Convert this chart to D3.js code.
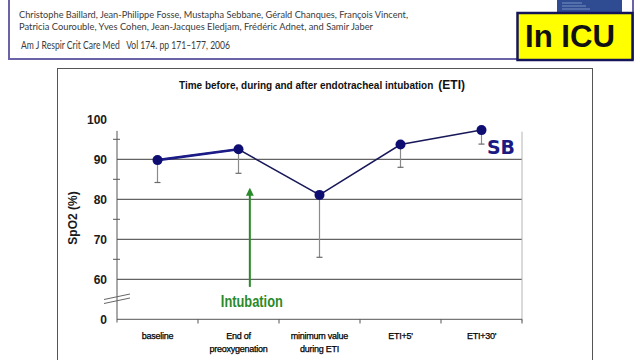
<!DOCTYPE html>
<html><head><meta charset="utf-8">
<script src="https://cdn.jsdelivr.net/npm/d3@7"></script>
<style>
html,body{margin:0;padding:0;background:#fff;}
svg{display:block;}
</style></head>
<body>
<svg id="c" width="640" height="360"></svg>
<script>
// ---- data ----
const authors = [
  "Christophe Baillard, Jean-Philippe Fosse, Mustapha Sebbane, Gérald Chanques, François Vincent,",
  "Patricia Courouble, Yves Cohen, Jean-Jacques Eledjam, Frédéric Adnet, and Samir Jaber"
];
const citation = "Am J Respir Crit Care Med\u2003Vol 174. pp 171–177, 2006";
const badge = "In ICU";
const chartTitle = "Time before, during and after endotracheal intubation";
const chartTitleSuffix = "(ETI)";
const yTitle = "SpO2 (%)";
const categories = ["baseline", "End of|preoxygenation", "minimum value|during ETI", "ETI+5'", "ETI+30'"];
const spo2Mean = [89.8, 92.5, 81.1, 93.7, 97.3];
const spo2Lower = [84.2, 86.5, 65.5, 88.0, 93.8];
const yTickValues = [50, 60, 70, 80, 90, 100];
const yTickLabels = ["0", "60", "70", "80", "90", "100"];
const yGridValues = [60, 70, 80, 90];
const yMinorValues = [65, 75, 85, 95];
const seriesLabel = "SB";
const annotationLabel = "Intubation";
const arrowRange = [58.1, 82.9];

// ---- drawing ----
const svg = d3.select("#c");

// header box
svg.append("rect").attr("x", 9).attr("y", -10).attr("width", 624).attr("height", 69)
  .attr("fill", "#fff").attr("stroke", "#6b63a8").attr("stroke-width", 2);
const hdr = svg.append("g").attr("font-family", "Lato, 'Open Sans', sans-serif").attr("fill", "#3a3a3a");
hdr.append("text").attr("x", 19).attr("y", 17.5).attr("font-size", 10).attr("textLength", 389)
  .attr("lengthAdjust", "spacingAndGlyphs").text(authors[0]);
hdr.append("text").attr("x", 19).attr("y", 29.5).attr("font-size", 10).attr("textLength", 354)
  .attr("lengthAdjust", "spacingAndGlyphs").text(authors[1]);
hdr.append("text").attr("x", 21).attr("y", 49).attr("font-size", 10.5).attr("textLength", 209)
  .attr("lengthAdjust", "spacingAndGlyphs").text(citation);

// journal cover fragment
svg.append("rect").attr("x", 557).attr("y", -2).attr("width", 65).attr("height", 16).attr("fill", "#2f4c92");
[3, 6, 9].forEach((yy, i) => svg.append("line").attr("x1", 562).attr("x2", 562 + 20 + i * 4)
  .attr("y1", yy).attr("y2", yy).attr("stroke", "#8ea2cf").attr("stroke-width", 0.8));

// In ICU badge
svg.append("rect").attr("x", 517.5).attr("y", 13).attr("width", 115).attr("height", 47)
  .attr("fill", "#ffff00").attr("stroke", "#14145a").attr("stroke-width", 2.5);
svg.append("text").attr("x", 525).attr("y", 47).attr("font-family", "Arial, 'Liberation Sans', sans-serif")
  .attr("font-weight", "bold").attr("font-size", 31).attr("fill", "#111").attr("textLength", 90)
  .attr("lengthAdjust", "spacingAndGlyphs").text(badge);

// chart panel
svg.append("rect").attr("x", 57.5).attr("y", 68.5).attr("width", 535).attr("height", 300)
  .attr("fill", "#fff").attr("stroke", "#555").attr("stroke-width", 1);

const FONT = "Arial, 'Liberation Sans', sans-serif";
const title = svg.append("text").attr("x", 179).attr("y", 89).attr("font-family", FONT)
  .attr("font-weight", "bold").attr("fill", "#111");
title.append("tspan").attr("font-size", 10).text(chartTitle);
title.append("tspan").attr("font-size", 12).attr("dx", 5).text(chartTitleSuffix);

// scales
const x = d3.scaleBand().domain(categories).range([117, 522]).padding(0);
const y = d3.scaleLinear().domain([50, 100]).range([319.3, 119.3]);
const cx = c => x(c) + x.bandwidth() / 2;

const plot = svg.append("g");
// gridlines
plot.selectAll(".grid").data(yGridValues).join("line")
  .attr("x1", 117).attr("x2", 522).attr("y1", d => y(d)).attr("y2", d => y(d))
  .attr("stroke", "#3c3c3c").attr("stroke-width", 1);
// right border
plot.append("line").attr("x1", 522).attr("x2", 522).attr("y1", y(96.9)).attr("y2", y(49.5))
  .attr("stroke", "#b5b5b5").attr("stroke-width", 1);

// y axis
const yAxis = d3.axisLeft(y).tickValues(yTickValues)
  .tickFormat((d, i) => yTickLabels[i]).tickSize(0).tickPadding(10);
const yg = plot.append("g").attr("transform", "translate(117,0)").call(yAxis);
yg.select(".domain").remove();
yg.selectAll("text").attr("font-family", FONT).attr("font-weight", "bold").attr("font-size", 12).attr("fill", "#1a1a1a");
plot.append("line").attr("x1", 117).attr("x2", 117).attr("y1", y(97.1)).attr("y2", y(49.2))
  .attr("stroke", "#555").attr("stroke-width", 1);
plot.selectAll(".minor").data(yMinorValues).join("line")
  .attr("x1", 113).attr("x2", 120).attr("y1", d => y(d)).attr("y2", d => y(d))
  .attr("stroke", "#555").attr("stroke-width", 1);
// axis break marks
[0, 4].forEach(o => plot.append("line").attr("x1", 104).attr("y1", 299.5 + o).attr("x2", 130).attr("y2", 294 + o)
  .attr("stroke", "#666").attr("stroke-width", 1));

// x axis
plot.append("line").attr("x1", 117).attr("x2", 522).attr("y1", 319.3).attr("y2", 319.3)
  .attr("stroke", "#555").attr("stroke-width", 1);
const bounds = categories.map(c => x(c)).concat([x.range()[1]]);
plot.selectAll(".xt").data(bounds.slice(1)).join("line")
  .attr("x1", d => d).attr("x2", d => d).attr("y1", 319.3).attr("y2", 323.5)
  .attr("stroke", "#555").attr("stroke-width", 1);
const xl = plot.selectAll(".xl").data(categories).join("text")
  .attr("x", d => cx(d)).attr("y", 338.5).attr("text-anchor", "middle")
  .attr("font-family", FONT).attr("font-size", 9).attr("fill", "#000")
  .attr("stroke", "#000").attr("stroke-width", 0.25).attr("letter-spacing", -0.25);
xl.each(function (d) {
  const parts = d.split("|");
  d3.select(this).selectAll("tspan").data(parts).join("tspan")
    .attr("x", cx(d)).attr("dy", (t, i) => i === 0 ? 0 : 13).text(t => t);
});

// y title
svg.append("text").attr("transform", "translate(77,218) rotate(-90)").attr("text-anchor", "middle")
  .attr("font-family", FONT).attr("font-weight", "bold").attr("font-size", 12).attr("fill", "#1a1a1a").text(yTitle);

// error bars
const pts = categories.map((c, i) => ({ c, m: spo2Mean[i], lo: spo2Lower[i] }));
plot.selectAll(".eb").data(pts).join("line")
  .attr("x1", d => cx(d.c)).attr("x2", d => cx(d.c)).attr("y1", d => y(d.m)).attr("y2", d => y(d.lo))
  .attr("stroke", "#8a8a8a").attr("stroke-width", 1.2);
plot.selectAll(".ec").data(pts).join("line")
  .attr("x1", d => cx(d.c) - 3).attr("x2", d => cx(d.c) + 3).attr("y1", d => y(d.lo)).attr("y2", d => y(d.lo))
  .attr("stroke", "#6a6a6a").attr("stroke-width", 1.2);

// line
const line = d3.line().x(d => cx(d.c)).y(d => y(d.m));
plot.append("path").attr("d", line(pts)).attr("fill", "none").attr("stroke", "#18185a").attr("stroke-width", 1.5);
plot.append("path").attr("d", line(pts.slice(0, 2))).attr("fill", "none").attr("stroke", "#1c1c88").attr("stroke-width", 2.6);
plot.selectAll(".pt").data(pts).join("circle")
  .attr("cx", d => cx(d.c)).attr("cy", d => y(d.m)).attr("r", 5)
  .attr("fill", "#0d0d72");

// SB label
svg.append("text").attr("x", 487).attr("y", 153.5).attr("font-family", "'DejaVu Sans', Verdana, sans-serif")
  .attr("font-weight", "bold").attr("font-size", 19).attr("fill", "#1a1a82")
  .attr("textLength", 28).attr("lengthAdjust", "spacingAndGlyphs").text(seriesLabel);

// intubation arrow
const ax = x(categories[1]) + x.bandwidth() * 0.64;
svg.append("defs").append("marker").attr("id", "ah").attr("viewBox", "0 0 10 10").attr("refX", 5).attr("refY", 5)
  .attr("markerWidth", 4).attr("markerHeight", 4).attr("orient", "auto")
  .append("path").attr("d", "M0,0 L10,5 L0,10 z").attr("fill", "#2a8a2a");
svg.append("line").attr("x1", ax).attr("x2", ax).attr("y1", y(arrowRange[0])).attr("y2", y(arrowRange[1]) + 4)
  .attr("stroke", "#2a8a2a").attr("stroke-width", 2).attr("marker-end", "url(#ah)");
svg.append("text").attr("x", ax + 2).attr("y", 307).attr("text-anchor", "middle")
  .attr("font-family", "'Liberation Sans Narrow', 'Arial Narrow', Arial, sans-serif").attr("font-weight", "bold")
  .attr("font-size", 16).attr("fill", "#2a8a2a").attr("textLength", 62).attr("lengthAdjust", "spacingAndGlyphs")
  .text(annotationLabel);
</script>
</body></html>
